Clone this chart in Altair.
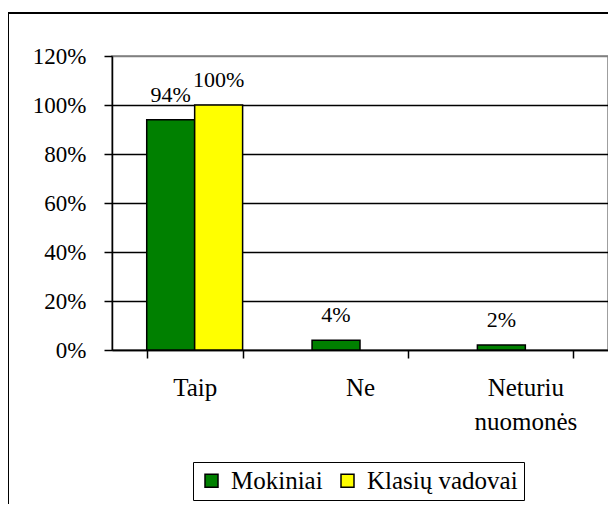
import altair as alt
import pandas as pd

categories = ["Taip", "Ne", "Neturiu nuomonės"]
series = ["Mokiniai", "Klasių vadovai"]
mokiniai = [0.94, 0.04, 0.02]
vadovai = [1.00, 0.0, 0.0]
colors = ["#008000", "#FFFF00"]
y_ticks = [0, 0.2, 0.4, 0.6, 0.8, 1.0, 1.2]

rows = []
for c, m, v in zip(categories, mokiniai, vadovai):
    rows.append({"cat": c, "series": series[0], "value": m})
    rows.append({"cat": c, "series": series[1], "value": v})
df = pd.DataFrame(rows)

W, H = 496, 294
FONT = "Liberation Serif"

x_axis = alt.Axis(
    title=None,
    labelAngle=0,
    tickBand="extent",
    tickSize=8,
    tickColor="black",
    tickWidth=1.5,
    domainColor="black",
    domainWidth=1.5,
    labelFont=FONT,
    labelFontSize=25,
    labelColor="black",
    labelPadding=17,
    labelLineHeight=34,
    labelExpr="datum.value == 'Neturiu nuomonės' ? ['Neturiu', 'nuomonės'] : datum.value",
    grid=False,
)
y_axis = alt.Axis(
    title=None,
    values=y_ticks,
    format=".0%",
    tickSize=8,
    tickColor="black",
    tickWidth=1.5,
    domainColor="black",
    domainWidth=1.5,
    labelFont=FONT,
    labelFontSize=23,
    labelColor="black",
    labelPadding=18,
    grid=True,
    gridColor={"condition": {"test": "datum.value > 1.1", "value": "#808080"}, "value": "black"},
    gridWidth=1.5,
)

x_enc = alt.X("cat:N", sort=categories,
              scale=alt.Scale(domain=categories, paddingInner=0.42, paddingOuter=0.21), axis=x_axis)
xo_enc = alt.XOffset("series:N", sort=series,
                     scale=alt.Scale(domain=series, paddingInner=0, paddingOuter=0))
y_enc = alt.Y("value:Q", scale=alt.Scale(domain=[0, 1.2], nice=False), axis=y_axis)

bars = alt.Chart(df).transform_filter("datum.value > 0").mark_bar(
    stroke="black", strokeWidth=1.5
).encode(
    x=x_enc,
    xOffset=xo_enc,
    y=y_enc,
    color=alt.Color(
        "series:N",
        sort=series,
        scale=alt.Scale(domain=series, range=colors),
        legend=alt.Legend(
            title=None,
            orient="none",
            legendX=81,
            legendY=406,
            direction="horizontal",
            symbolType="square",
            symbolSize=169,
            symbolStrokeColor="black",
            symbolStrokeWidth=1.5,
            labelFont=FONT,
            labelFontSize=25,
            labelColor="black",
            labelOffset=7,
            columnPadding=12,
            padding=6,
            strokeColor="black",
            fillColor="white",
        ),
    ),
)

labels = alt.Chart(df).transform_filter("datum.value > 0").mark_text(
    font=FONT, fontSize=22, color="black", baseline="alphabetic", dy=-18
).encode(
    x=x_enc,
    xOffset=xo_enc,
    y=y_enc,
    text=alt.Text("value:Q", format=".0%"),
)

border = alt.Chart(pd.DataFrame({"a": [0]})).mark_rect(
    fill=None, stroke="black", strokeWidth=2
).encode(
    x=alt.value(-104), x2=alt.value(W + 40), y=alt.value(-43), y2=alt.value(H + 200)
)

chart = alt.layer(border, bars, labels).properties(
    width=W, height=H,
    autosize=alt.AutoSizeParams(type="none"),
    padding={"left": 104, "top": 48, "right": 0, "bottom": 154},
).configure(font=FONT).configure_view(stroke="#808080", strokeWidth=1.5)

chart.save("out.html", embed_options={"renderer": "svg", "actions": False})
